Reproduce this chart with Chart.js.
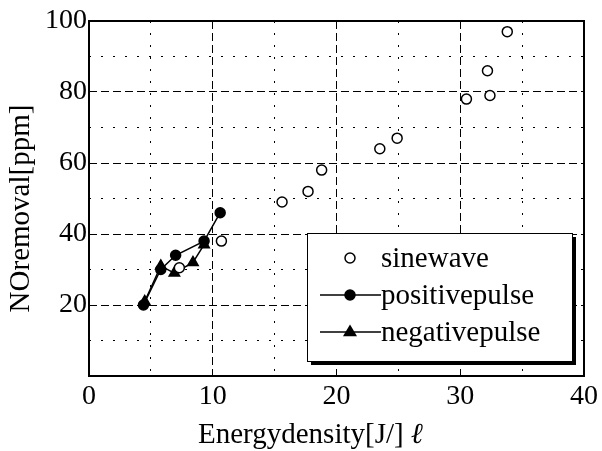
<!DOCTYPE html>
<html>
<head>
<meta charset="utf-8">
<script src="https://cdn.jsdelivr.net/npm/chart.js@4/dist/chart.umd.min.js"></script>
<style>
  body { margin: 0; background: #fff; }
  #wrap { width: 602px; height: 451px; }
</style>
</head>
<body>
<div id="wrap"><canvas id="noChart" width="602" height="451"></canvas></div>
<script>
// NO removal vs. energy density for three discharge modes
const sineX = [7.3, 10.7, 15.6, 17.7, 18.8, 23.5, 24.9, 30.5, 32.4, 32.2, 33.8];
const sineY = [30.5, 38, 49, 52, 58, 64, 67, 78, 79, 86, 97];
const posX = [4.4, 5.8, 7.0, 9.3, 10.6];
const posY = [20, 30, 34, 38, 46];
const negX = [4.5, 5.8, 6.9, 8.4, 9.3];
const negY = [21, 31, 29, 32, 37];

const seriesNames = ['sinewave', 'positivepulse', 'negativepulse'];
const xTickLabels = [0, 10, 20, 30, 40];
const yTickLabels = [20, 40, 60, 80, 100];
const xTitle = 'Energydensity[J/]';
const xUnit = '\u2113';
const yTitle = 'NOremoval[ppm]';

const FONT = '"Liberation Serif", "Times New Roman", serif';

function pts(xs, ys) {
  return xs.map((x, i) => ({ x: x, y: ys[i] }));
}

// major lines dashed, minor lines dotted
function gridDash(major) {
  return ctx => {
    if (!ctx.tick) return [];
    return ctx.tick.value % major === 0 ? [8, 4] : [2, 10];
  };
}

function drawMarker(ctx, style, x, y) {
  ctx.save();
  ctx.lineWidth = 1.5;
  ctx.strokeStyle = '#000';
  ctx.beginPath();
  if (style === 'triangle') {
    const r = 6;
    ctx.moveTo(x, y - r);
    ctx.lineTo(x + r * 0.95, y + r * 0.6);
    ctx.lineTo(x - r * 0.95, y + r * 0.6);
    ctx.closePath();
    ctx.fillStyle = '#000';
  } else {
    ctx.arc(x, y, 5, 0, Math.PI * 2);
    ctx.fillStyle = style === 'open' ? '#fff' : '#000';
  }
  ctx.fill();
  ctx.stroke();
  ctx.restore();
}

const frameAndLegend = {
  id: 'frameAndLegend',
  afterDatasetsDraw(chart) {
    const { ctx, chartArea: a } = chart;
    ctx.save();
    ctx.strokeStyle = '#000';
    ctx.lineWidth = 2;
    ctx.strokeRect(a.left, a.top, a.right - a.left, a.bottom - a.top);

    // legend box with a solid drop shadow
    const bx = a.left + 218, by = a.top + 212, bw = 265, bh = 128;
    ctx.fillStyle = '#000';
    ctx.fillRect(bx + 4, by + 4, bw, bh);
    ctx.fillStyle = '#fff';
    ctx.fillRect(bx, by, bw, bh);
    ctx.lineWidth = 1;
    ctx.strokeRect(bx + 0.5, by + 0.5, bw, bh);

    const markers = ['open', 'filled', 'triangle'];
    ctx.font = '29px ' + FONT;
    ctx.textAlign = 'left';
    ctx.textBaseline = 'middle';
    seriesNames.forEach((name, i) => {
      const y = by + 25 + i * 37;
      if (i > 0) {
        ctx.beginPath();
        ctx.lineWidth = 1.5;
        ctx.moveTo(bx + 13, y);
        ctx.lineTo(bx + 74, y);
        ctx.stroke();
      }
      drawMarker(ctx, markers[i], bx + 43, y);
      ctx.fillStyle = '#000';
      ctx.fillText(name, bx + 74, y + 1);
    });
    ctx.restore();
  },
  afterDraw(chart) {
    const { ctx, chartArea: a } = chart;
    ctx.save();
    ctx.fillStyle = '#000';
    ctx.font = '29px ' + FONT;
    ctx.textAlign = 'left';
    ctx.textBaseline = 'alphabetic';
    const tx = a.left + 109, ty = a.bottom + 67;
    ctx.fillText(xTitle, tx, ty);
    const w = ctx.measureText(xTitle).width;
    ctx.font = 'italic 29px ' + FONT;
    ctx.fillText(xUnit, tx + w + 7, ty);

    ctx.font = '29px ' + FONT;
    ctx.translate(a.left - 68, (a.top + a.bottom) / 2 + 10);
    ctx.rotate(-Math.PI / 2);
    ctx.textAlign = 'center';
    ctx.textBaseline = 'middle';
    ctx.fillText(yTitle, 0, 0);
    ctx.restore();
  }
};

new Chart(document.getElementById('noChart'), {
  type: 'scatter',
  data: {
    datasets: [
      {
        label: seriesNames[0],
        data: pts(sineX, sineY),
        pointStyle: 'circle',
        pointRadius: 5,
        pointBackgroundColor: '#fff',
        pointBorderColor: '#000',
        pointBorderWidth: 1.5,
        showLine: false,
        order: 0
      },
      {
        label: seriesNames[1],
        data: pts(posX, posY),
        pointStyle: 'circle',
        pointRadius: 5,
        pointBackgroundColor: '#000',
        pointBorderColor: '#000',
        borderColor: '#000',
        borderWidth: 1.5,
        showLine: true,
        order: 2
      },
      {
        label: seriesNames[2],
        data: pts(negX, negY),
        pointStyle: 'triangle',
        pointRadius: 6,
        pointBackgroundColor: '#000',
        pointBorderColor: '#000',
        borderColor: '#000',
        borderWidth: 1.5,
        showLine: true,
        order: 1
      }
    ]
  },
  options: {
    responsive: false,
    animation: false,
    layout: { padding: { top: 21, right: 15, left: 0, bottom: 0 } },
    plugins: { legend: { display: false }, tooltip: { enabled: false } },
    scales: {
      x: {
        type: 'linear',
        min: 0,
        max: 40,
        afterFit(scale) { scale.height = 75; },
        ticks: {
          stepSize: 5,
          autoSkip: false,
          padding: 4,
          color: '#000',
          font: { family: FONT, size: 28 },
          maxRotation: 0,
          callback: v => xTickLabels.includes(v) ? String(v) : ''
        },
        grid: { color: '#000', lineWidth: 1, drawTicks: false },
        border: { display: false, dash: gridDash(10) }
      },
      y: {
        type: 'linear',
        min: 0,
        max: 100,
        afterFit(scale) { scale.width = 89; },
        ticks: {
          stepSize: 10,
          autoSkip: false,
          padding: 2,
          color: '#000',
          font: { family: FONT, size: 28 },
          callback: v => yTickLabels.includes(v) ? String(v) : ''
        },
        grid: { color: '#000', lineWidth: 1, drawTicks: false },
        border: { display: false, dash: gridDash(20) }
      }
    }
  },
  plugins: [frameAndLegend]
});
</script>
</body>
</html>
